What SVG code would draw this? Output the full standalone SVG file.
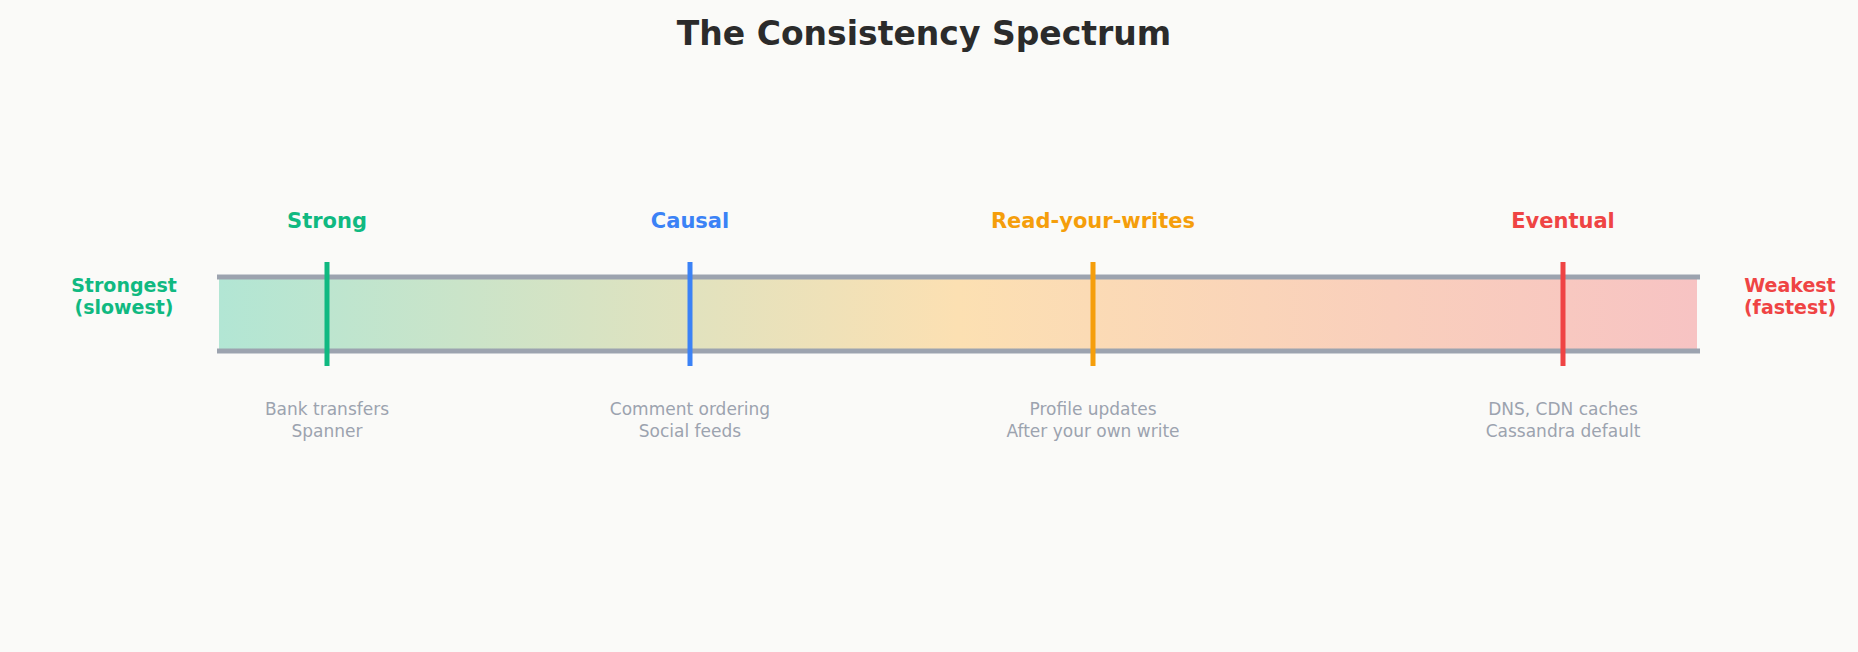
<svg xmlns="http://www.w3.org/2000/svg" width="1858" height="652" viewBox="0 0 1858 652">
<defs>
<linearGradient id="g" x1="0" x2="1" y1="0" y2="0">
<stop offset="0" stop-color="#b2e6d4"/>
<stop offset="0.5" stop-color="#fce0b2"/>
<stop offset="1" stop-color="#f7c3c3"/>
</linearGradient>
</defs>
<style>
text{font-family:"DejaVu Sans","Noto Sans",sans-serif;text-anchor:middle}
.t{font-size:33px;font-weight:bold;fill:#2b2b2b}
.l{font-size:21px;font-weight:bold}
.e{font-size:19px;font-weight:bold}
.d{font-size:17px;fill:#9ca3af}
.rail{stroke:#9ca3af;stroke-width:5}
.tick{stroke-width:5}
</style>
<rect width="1858" height="652" fill="#fafaf8"/>
<text class="t" x="924" y="45">The Consistency Spectrum</text>
<g id="bar">
<rect x="219" y="277" width="1478" height="74" fill="url(#g)"/>
<line class="rail" x1="217" y1="277" x2="1700" y2="277"/>
<line class="rail" x1="217" y1="351" x2="1700" y2="351"/>
</g>
<g id="ends">
<text class="e" x="124" y="292" fill="#10b981">Strongest</text>
<text class="e" x="124" y="314" fill="#10b981">(slowest)</text>
<text class="e" x="1790" y="292" fill="#ef4444">Weakest</text>
<text class="e" x="1790" y="314" fill="#ef4444">(fastest)</text>
</g>
<g id="strong">
<line class="tick" x1="327" y1="262" x2="327" y2="366" stroke="#10b981"/>
<text class="l" x="327" y="228" fill="#10b981">Strong</text>
<text class="d" x="327" y="415">Bank transfers</text>
<text class="d" x="327" y="437">Spanner</text>
</g>
<g id="causal">
<line class="tick" x1="690" y1="262" x2="690" y2="366" stroke="#3b82f6"/>
<text class="l" x="690" y="228" fill="#3b82f6">Causal</text>
<text class="d" x="690" y="415">Comment ordering</text>
<text class="d" x="690" y="437">Social feeds</text>
</g>
<g id="ryw">
<line class="tick" x1="1093" y1="262" x2="1093" y2="366" stroke="#f59e0b"/>
<text class="l" x="1093" y="228" fill="#f59e0b">Read-your-writes</text>
<text class="d" x="1093" y="415">Profile updates</text>
<text class="d" x="1093" y="437">After your own write</text>
</g>
<g id="eventual">
<line class="tick" x1="1563" y1="262" x2="1563" y2="366" stroke="#ef4444"/>
<text class="l" x="1563" y="228" fill="#ef4444">Eventual</text>
<text class="d" x="1563" y="415">DNS, CDN caches</text>
<text class="d" x="1563" y="437">Cassandra default</text>
</g>
<g id="connectors"/>
</svg>
